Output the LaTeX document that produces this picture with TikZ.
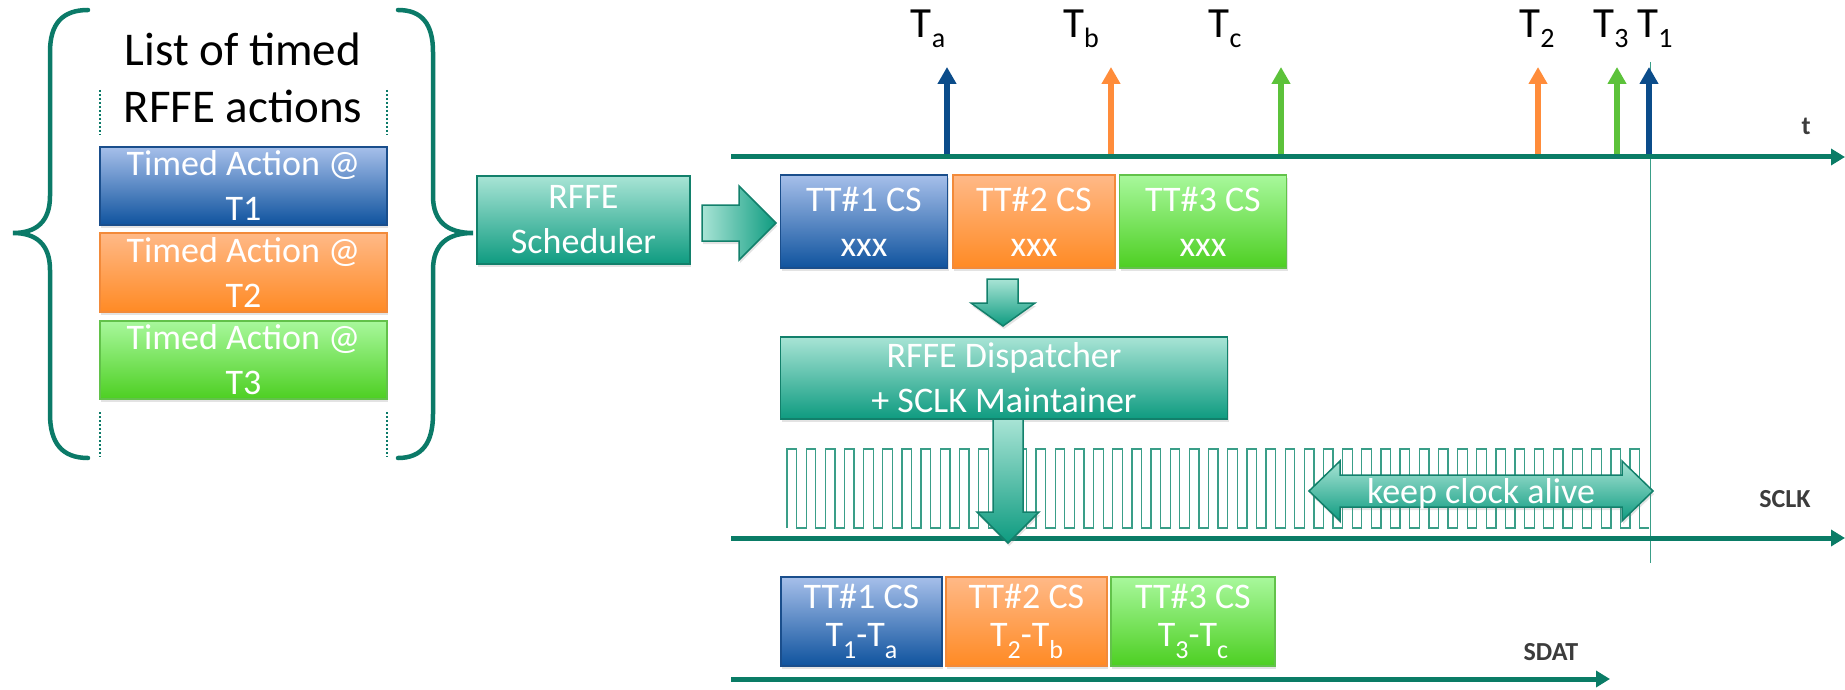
\documentclass[tikz,border=0pt]{standalone}
\usepackage{fontspec}
\setmainfont{Carlito}
\usetikzlibrary{arrows.meta,shadows,calc}

\definecolor{axisC}{HTML}{0A7C66}
\definecolor{braceC}{HTML}{0B7A68}
\definecolor{clkC}{HTML}{3A9E88}
\definecolor{blueL}{HTML}{A6BFEA}
\definecolor{blueD}{HTML}{0F539E}
\definecolor{blueB}{HTML}{1A4E8C}
\definecolor{blueA}{HTML}{0B4C8A}
\definecolor{orangeL}{HTML}{FFB987}
\definecolor{orangeD}{HTML}{FF8A24}
\definecolor{orangeB}{HTML}{F28A3A}
\definecolor{orangeA}{HTML}{FF8C3A}
\definecolor{greenL}{HTML}{A8F89C}
\definecolor{greenD}{HTML}{4DCF22}
\definecolor{greenB}{HTML}{62C24A}
\definecolor{greenA}{HTML}{5CC23A}
\definecolor{tealL}{HTML}{A8E4D5}
\definecolor{tealD}{HTML}{0E9B80}
\definecolor{tealB}{HTML}{12806B}
\definecolor{labelC}{HTML}{3C3C3C}

\newcommand{\lowidx}[1]{\raisebox{-10pt}{\fontsize{28}{28}\selectfont #1}}
\newcommand{\boxidx}[1]{\raisebox{-12pt}{\fontsize{26}{26}\selectfont #1}}

\tikzset{
  cbox/.style={rectangle, inner sep=0pt, line width=1.5pt, text=white,
    align=center, font=\fontsize{36}{45}\selectfont,
    drop shadow={shadow xshift=1pt, shadow yshift=-3pt, opacity=0.22}},
  bluebox/.style={cbox, draw=blueB, top color=blueL, bottom color=blueD},
  orangebox/.style={cbox, draw=orangeB, top color=orangeL, bottom color=orangeD},
  greenbox/.style={cbox, draw=greenB, top color=greenL, bottom color=greenD},
  tealbox/.style={cbox, draw=tealB, top color=tealL, bottom color=tealD},
  blockarrow/.style={draw=tealB, line width=1.5pt, line join=miter,
    drop shadow={shadow xshift=1pt, shadow yshift=-3pt, opacity=0.22}},
  timeaxis/.style={draw=axisC, line width=5pt,
    -{Triangle[length=14pt,width=16pt]}},
  event/.style={line width=6pt, -{Triangle[length=17pt,width=18pt]}},
  evlabel/.style={anchor=base, inner sep=0pt, font=\fontsize{43}{43}\selectfont},
  siglabel/.style={anchor=base, inner sep=0pt, text=labelC,
    font=\fontsize{26}{26}\selectfont\bfseries},
  bracket/.style={draw=braceC, line width=4.5pt, line cap=round},
  listdots/.style={draw=braceC, line width=2pt, dash pattern=on 2pt off 2pt},
  clk/.style={draw=clkC, line width=1.3pt},
}

\begin{document}
\begin{tikzpicture}[x=1pt, y=-1pt]
\useasboundingbox (0,0) rectangle (1845,690);

% ---------- list of timed actions ----------
\draw[bracket] (88,10) .. controls (62,10) and (50,24) .. (50,52) -- (50,196)
  .. controls (50,222) and (36,233) .. (13,233)
  .. controls (36,233) and (50,244) .. (50,270) -- (50,414)
  .. controls (50,443) and (62,458) .. (88,458);
\draw[bracket] (398,10) .. controls (422,10) and (433,24) .. (433,52) -- (433,196)
  .. controls (433,222) and (448,233) .. (473,233)
  .. controls (448,233) and (433,244) .. (433,270) -- (433,414)
  .. controls (433,443) and (422,458) .. (398,458);

\node[align=center, inner sep=0pt, font=\fontsize{47}{57}\selectfont] (title)
  at (243,78) {List of timed\\RFFE actions};

\draw[listdots] (100,90) -- (100,135);
\draw[listdots] (387,90) -- (387,135);
\draw[listdots] (100,412) -- (100,457);
\draw[listdots] (387,412) -- (387,457);

\node[bluebox, minimum width=287pt, minimum height=78pt] (ta1) at (243.5,186)
  {Timed Action @\\T1};
\node[orangebox, minimum width=287pt, minimum height=79pt] (ta2) at (243.5,272.5)
  {Timed Action @\\T2};
\node[greenbox, minimum width=287pt, minimum height=78pt] (ta3) at (243.5,360)
  {Timed Action @\\T3};

% ---------- scheduler ----------
\node[tealbox, minimum width=213pt, minimum height=88pt] (sched) at (583.5,220)
  {RFFE\\Scheduler};

\path[blockarrow, left color=tealL, right color=tealD]
  (702,205) -- (739,205) -- (739,186) -- (776,223) -- (739,260) -- (739,241)
  -- (702,241) -- cycle;

% ---------- time axis and events ----------
\draw[draw=clkC, line width=1pt] (1650,62) -- (1650,563);

\draw[event, blueA]   (947,156)  -- (947,67);
\draw[event, orangeA] (1111,156) -- (1111,67);
\draw[event, greenA]  (1281,156) -- (1281,67);
\draw[event, orangeA] (1538,156) -- (1538,67);
\draw[event, greenA]  (1617,156) -- (1617,67);
\draw[event, blueA]   (1649,156) -- (1649,67);

\node[evlabel] (la) at (928,38)  {T\lowidx{a}};
\node[evlabel] (lb) at (1081,38) {T\lowidx{b}};
\node[evlabel] (lc) at (1225,38) {T\lowidx{c}};
\node[evlabel] (l2) at (1537,38) {T\lowidx{2}};
\node[evlabel] (l3) at (1611,38) {T\lowidx{3}};
\node[evlabel] (l1) at (1655,38) {T\lowidx{1}};

\coordinate (tstart) at (731,157);
\coordinate (tend) at (1845,157);
\draw[timeaxis] (tstart) -- (tend);
\node[siglabel] (tlab) at (1806,135) {t};

% ---------- scheduled transactions ----------
\node[bluebox, minimum width=167pt, minimum height=93pt] (cs1) at (864,221.5)
  {TT\#1 CS\\xxx};
\node[orangebox, minimum width=162pt, minimum height=93pt] (cs2) at (1034,221.5)
  {TT\#2 CS\\xxx};
\node[greenbox, minimum width=167pt, minimum height=93pt] (cs3) at (1203,221.5)
  {TT\#3 CS\\xxx};

\path[blockarrow, top color=tealL, bottom color=tealD]
  (987,279) -- (1018,279) -- (1018,303) -- (1035,303) -- (1003,326) -- (971,303)
  -- (987,303) -- cycle;

% ---------- dispatcher ----------
\node[tealbox, minimum width=447pt, minimum height=82pt] (disp) at (1004,378)
  {RFFE Dispatcher\\+ SCLK Maintainer};

% ---------- SCLK ----------
\draw[clk] (787,528) \foreach \i in {1,...,45} {
  -- ++(0,-79) -- ++(9.58,0) -- ++(0,79) -- ++(9.58,0) };

\coordinate (sstart) at (731,538);
\coordinate (send) at (1845,538);
\draw[timeaxis] (sstart) -- (send);
\node[siglabel] (sclk) at (1785,507) {SCLK};

\path[blockarrow, top color=tealL, bottom color=tealD]
  (993,419) -- (1023,419) -- (1023,512) -- (1039,512) -- (1008,543) -- (977,512)
  -- (993,512) -- cycle;

\path[blockarrow, top color=tealL, bottom color=tealD]
  (1309,491) -- (1340,461) -- (1340,475) -- (1622,475) -- (1622,461)
  -- (1653,491) -- (1622,521) -- (1622,507) -- (1340,507) -- (1340,521) -- cycle;
\node[text=white, inner sep=0pt, font=\fontsize{36}{36}\selectfont] (alive)
  at (1481,494) {keep clock alive};

% ---------- SDAT ----------
\node[bluebox, minimum width=161pt, minimum height=89pt,
  font=\fontsize{36}{38}\selectfont] (d1) at (861.5,621.5)
  {TT\#1 CS\\T\boxidx{1}-T\boxidx{a}};
\node[orangebox, minimum width=161pt, minimum height=89pt,
  font=\fontsize{36}{38}\selectfont] (d2) at (1026.5,621.5)
  {TT\#2 CS\\T\boxidx{2}-T\boxidx{b}};
\node[greenbox, minimum width=164pt, minimum height=89pt,
  font=\fontsize{36}{38}\selectfont] (d3) at (1193,621.5)
  {TT\#3 CS\\T\boxidx{3}-T\boxidx{c}};

\coordinate (dstart) at (731,679);
\coordinate (dend) at (1610,679);
\draw[timeaxis] (dstart) -- (dend);
\node[siglabel] (sdat) at (1551,660) {SDAT};

\end{tikzpicture}
\end{document}
